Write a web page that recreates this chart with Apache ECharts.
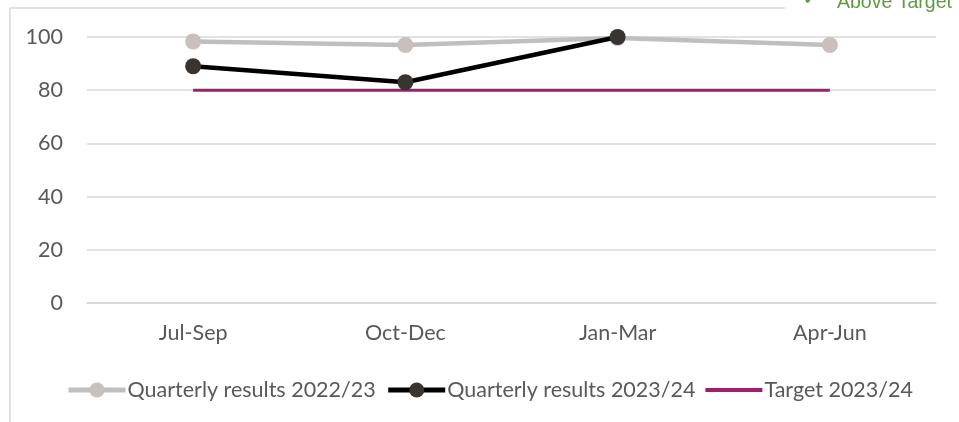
<!DOCTYPE html>
<html>
<head>
<meta charset="utf-8">
<script src="https://cdn.jsdelivr.net/npm/echarts@6/dist/echarts.min.js"></script>
<style>
  html, body { margin: 0; padding: 0; background: #ffffff; }
  #chart { width: 959px; height: 422px; }
</style>
</head>
<body>
<div id="chart"></div>
<script>
var quarters = ["Jul-Sep", "Oct-Dec", "Jan-Mar", "Apr-Jun"];
var results2223 = [98.3, 97, 99.6, 97];
var results2324 = [89, 83, 100, null];
var target2324 = [80, 80, 80, 80];
var yTicks = [0, 20, 40, 60, 80, 100];

var fontName = "Lato";
var myChart = echarts.init(document.getElementById("chart"));
var option = {
  backgroundColor: "#ffffff",
  animation: false,
  textStyle: { fontFamily: fontName },
  grid: { left: 87, right: 23, top: 37, bottom: 119 },
  legend: {
    bottom: 16,
    left: 61,
    itemWidth: 57,
    itemHeight: 19,
    itemGap: 10,
    textStyle: { fontSize: 21.5, color: "#595959", fontFamily: fontName, padding: [0, 0, 0, -3] },
    data: [
      { name: "Quarterly results 2022/23", lineStyle: { width: 5 } },
      { name: "Quarterly results 2023/24", lineStyle: { width: 5 } },
      { name: "Target 2023/24", icon: "path://M0,0H57V4H0Z" }
    ]
  },
  xAxis: {
    type: "category",
    data: quarters,
    axisLine: { show: true, lineStyle: { color: "#d9d9d9", width: 1.5 } },
    axisTick: { show: false },
    axisLabel: { fontSize: 21.5, color: "#595959", margin: 19 }
  },
  yAxis: {
    type: "value",
    min: yTicks[0],
    max: yTicks[yTicks.length - 1],
    interval: 20,
    axisLine: { show: false },
    axisTick: { show: false },
    splitLine: { lineStyle: { color: "#d9d9d9", width: 1.5 } },
    axisLabel: { fontSize: 21.5, color: "#595959", margin: 24 }
  },
  series: [
    {
      name: "Quarterly results 2022/23",
      type: "line",
      data: results2223,
      symbol: "circle",
      symbolSize: 16,
      lineStyle: { color: "#bfbfbf", width: 4.5 },
      itemStyle: { color: "#c9bfbd" },
      z: 2
    },
    {
      name: "Quarterly results 2023/24",
      type: "line",
      data: results2324,
      symbol: "circle",
      symbolSize: 16,
      lineStyle: { color: "#000000", width: 4.5 },
      itemStyle: { color: "#3a3430" },
      z: 3
    },
    {
      name: "Target 2023/24",
      type: "line",
      data: target2324,
      symbol: "none",
      lineStyle: { color: "#9e1f6e", width: 3 },
      itemStyle: { color: "#9e1f6e" },
      z: 1
    }
  ],
  graphic: [
    { type: "line", shape: { x1: 10, y1: 8, x2: 785, y2: 8 }, style: { stroke: "#d9d9d9", lineWidth: 1.5 } },
    { type: "line", shape: { x1: 10, y1: 8, x2: 10, y2: 422 }, style: { stroke: "#d9d9d9", lineWidth: 1.5 } },
    { type: "text", left: 803, top: -10, style: { text: "\u2714", fill: "#5e9a40", font: "18px DejaVu Sans" } },
    { type: "text", left: 837, top: -7, style: { text: "Above Target", fill: "#5e9a40", font: "19.5px 'Liberation Sans'" } }
  ]
};
myChart.setOption(option);
</script>
</body>
</html>
